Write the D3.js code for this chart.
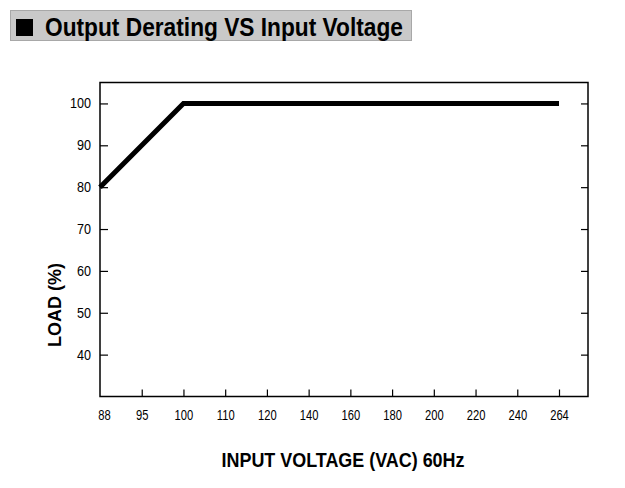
<!DOCTYPE html>
<html>
<head>
<meta charset="utf-8">
<script src="https://cdn.jsdelivr.net/npm/d3@7"></script>
<style>
  body { margin: 0; background: #fff; }
  text { font-family: "Liberation Sans", Arial, sans-serif; fill: #000; }
</style>
</head>
<body>
<div id="chart"></div>
<script>
// categories on the x axis (evenly spaced, not linear)
var voltages = ['88', '95', '100', '110', '120', '140', '160', '180', '200', '220', '240', '264'];
var yTicks = [40, 50, 60, 70, 80, 90, 100];
// derating curve
var curveV = ['88', '100', '264'];
var curveLoad = [80, 100, 100];

var W = 625, H = 488;
var m = {left: 100, right: 588, top: 82.5, bottom: 396.5};

var svg = d3.select('#chart').append('svg')
    .attr('width', W)
    .attr('height', H);

// squeeze text to look like a condensed face
function narrow(sel, k) {
    sel.each(function () {
        var w = this.getComputedTextLength();
        d3.select(this).attr('textLength', w * k).attr('lengthAdjust', 'spacingAndGlyphs');
    });
}

// title bar
svg.append('rect')
    .attr('x', 10.5).attr('y', 10.5)
    .attr('width', 401).attr('height', 30)
    .attr('fill', '#c9c9c9')
    .attr('stroke', '#a8a8a8');
svg.append('rect')
    .attr('x', 16).attr('y', 19)
    .attr('width', 17).attr('height', 17)
    .attr('fill', '#000');
svg.append('text')
    .attr('x', 45).attr('y', 36)
    .attr('font-size', 25)
    .attr('font-weight', 'bold')
    .attr('textLength', 358)
    .attr('lengthAdjust', 'spacingAndGlyphs')
    .text('Output Derating VS Input Voltage');

var x = d3.scalePoint()
    .domain(voltages)
    .range([m.left, 559]);
var y = d3.scaleLinear()
    .domain([30, 105])
    .range([m.bottom, m.top]);

var g = svg.append('g');

// frame
g.append('rect')
    .attr('x', m.left).attr('y', m.top)
    .attr('width', m.right - m.left).attr('height', m.bottom - m.top)
    .attr('fill', 'none')
    .attr('stroke', '#000')
    .attr('stroke-width', 1.5);

// left axis, ticks pointing inward
var yl = g.append('g')
    .attr('transform', 'translate(' + m.left + ',0)')
    .call(d3.axisLeft(y).tickValues(yTicks).tickSize(-8).tickPadding(9));
yl.select('.domain').remove();
yl.selectAll('line').attr('stroke-width', 1.2);
yl.selectAll('text').attr('font-size', 14).attr('fill', '#000').style('font-family', null);
narrow(yl.selectAll('text'), 0.9);

// right axis ticks
var yr = g.append('g')
    .attr('transform', 'translate(' + m.right + ',0)')
    .call(d3.axisRight(y).tickValues(yTicks).tickSize(-7).tickFormat(''));
yr.select('.domain').remove();
yr.selectAll('line').attr('stroke-width', 1.2);

// bottom axis
var xb = g.append('g')
    .attr('transform', 'translate(0,' + m.bottom + ')')
    .call(d3.axisBottom(x).tickSize(-7).tickPadding(14));
xb.select('.domain').remove();
xb.selectAll('line').attr('stroke-width', 1.2);
var t88 = xb.selectAll('.tick').filter(function (d) { return d === '88'; });
t88.select('line').remove();
t88.select('text').attr('x', 4);
xb.selectAll('text').attr('font-size', 14).attr('fill', '#000').style('font-family', null);
narrow(xb.selectAll('text'), 0.8);

// curve
var line = d3.line()
    .x(function (d) { return x(d[0]); })
    .y(function (d) { return y(d[1]); });
g.append('path')
    .datum(d3.zip(curveV, curveLoad))
    .attr('d', line)
    .attr('fill', 'none')
    .attr('stroke', '#000')
    .attr('stroke-width', 5)
    .attr('stroke-linejoin', 'miter');

// axis titles
svg.append('text')
    .attr('transform', 'translate(61,305) rotate(-90)')
    .attr('text-anchor', 'middle')
    .attr('font-size', 19)
    .attr('font-weight', 'bold')
    .attr('textLength', 84)
    .attr('lengthAdjust', 'spacingAndGlyphs')
    .text('LOAD (%)');
svg.append('text')
    .attr('x', 343).attr('y', 467)
    .attr('text-anchor', 'middle')
    .attr('font-size', 20)
    .attr('font-weight', 'bold')
    .attr('textLength', 243)
    .attr('lengthAdjust', 'spacingAndGlyphs')
    .text('INPUT VOLTAGE (VAC) 60Hz');
</script>
</body>
</html>
